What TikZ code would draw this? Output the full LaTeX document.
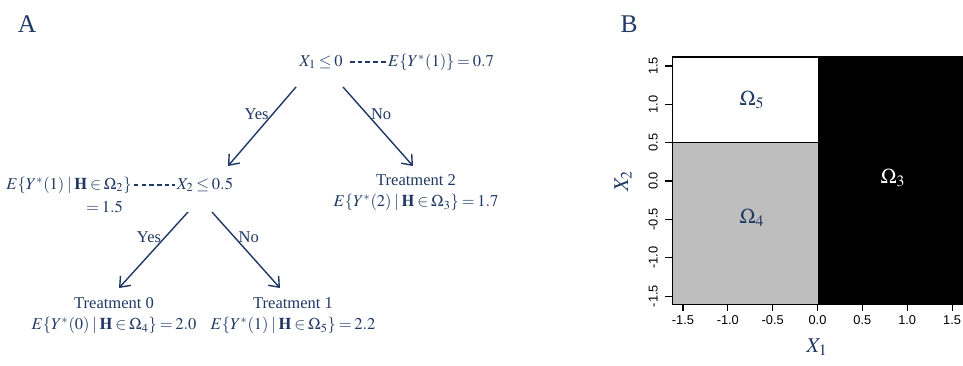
\documentclass[tikz,border=0pt]{standalone}
\usepackage{mathptmx}
\usepackage[no-math]{fontspec}
\setmainfont{Liberation Serif}
\setsansfont{Liberation Sans}
\usepackage{tikz}
\usetikzlibrary{arrows.meta,calc,positioning}
\definecolor{navy}{RGB}{31,56,100}
\definecolor{rgrey}{RGB}{190,190,190}
\thickmuskip=3mu plus 2mu
\medmuskip=2mu plus 1mu

\begin{document}
\begin{tikzpicture}[
   x=0.02cm,y=-0.02cm,
   every node/.style={text=navy,inner sep=1pt},
   txt/.style={font=\fontsize{9.4}{12}\selectfont,align=center},
   ans/.style={font=\fontsize{9.4}{12}\selectfont,inner sep=2pt},
   panel/.style={font=\fontsize{14.5}{16}\selectfont},
   region/.style={font=\fontsize{12}{14}\selectfont},
   branch/.style={-{Straight Barb[length=5pt,width=8pt]},line width=0.8pt,draw=navy},
   dots/.style={dash pattern=on 2.6pt off 1.8pt,line width=0.6pt,draw=navy},
   tick/.style={font=\sffamily\fontsize{7.3}{8}\selectfont,text=black}]
\useasboundingbox (0,0) rectangle (963,365);

\node[panel] (A) at (27,24) {A};
\node[txt] (root) at (321,62) {$X_1 \le 0$};
\node[txt] (rootval) at (441,62) {$E\{Y^*(1)\} = 0.7$};
\node[txt] (leftval) at (69,185) {$E\{Y^*(1) \mid \mathbf{H} \in \Omega_2\}$};
\node[txt,anchor=east] (leftnum) at (125,207) {$= 1.5$};
\node[txt] (split2) at (205,185) {$X_2 \le 0.5$};
\node[txt] (trt2) at (416,193) {Treatment 2\\$E\{Y^*(2) \mid \mathbf{H} \in \Omega_3\} = 1.7$};
\node[txt] (trt0) at (114,316) {Treatment 0\\$E\{Y^*(0) \mid \mathbf{H} \in \Omega_4\} = 2.0$};
\node[txt] (trt1) at (293,316) {Treatment 1\\$E\{Y^*(1) \mid \mathbf{H} \in \Omega_5\} = 2.2$};

\draw[dots,shorten <=3pt] (root.east) -- (rootval.west);
\draw[dots] (leftval.east) -- (split2.west);
\draw[branch] ($(root)+(-25,25)$) -- node[ans,pos=0.34,left] {Yes} ($(split2)+(23,-19)$);
\draw[branch] ($(root)+(22,25)$) -- node[ans,pos=0.34,right] {No} ($(trt2)+(-3,-27)$);
\draw[branch] ($(split2)+(-17,27)$) -- node[ans,pos=0.33,left] {Yes} ($(trt0)+(5,-28)$);
\draw[branch] ($(split2)+(7,27)$) -- node[ans,pos=0.33,right] {No} ($(trt1)+(-13,-28)$);

\node[panel] (B) at (629,24) {B};
\begin{scope}[shift={(817.5,181)},x=1.794cm,y=1.534cm]
  \fill[rgrey] (-1.62,-1.605) rectangle (0,0.5);
  \fill[white] (-1.62,0.5) rectangle (0,1.617);
  \fill[black] (0,-1.605) rectangle (1.63,1.617);
  \draw[line width=0.6pt] (1.63,1.617) -- (-1.62,1.617) -- (-1.62,-1.605) -- (1.63,-1.605);
  \draw[line width=0.6pt] (-1.62,0.5) -- (0,0.5);
  \foreach \v/\t in {-1.5/-1.5,-1/-1.0,-0.5/-0.5,0/0.0,0.5/0.5,1/1.0,1.5/1.5} {
    \draw[line width=0.6pt] (\v,-1.605) -- ++(0,-0.091) node[tick,below,inner sep=2.5pt] {\t};
    \draw[line width=0.6pt] (-1.62,\v) -- ++(-0.078,0) node[tick,rotate=90,anchor=south,inner sep=4pt] {\t};
  }
\end{scope}
\node[region] (om5) at (752,100) {$\Omega_5$};
\node[region] (om4) at (752,218) {$\Omega_4$};
\node[region,text=white] (om3) at (893,178) {$\Omega_3$};
\node[region] (xlab) at (817,347) {$X_1$};
\node[region,rotate=90] (ylab) at (623,181) {$X_2$};
\end{tikzpicture}
\end{document}
